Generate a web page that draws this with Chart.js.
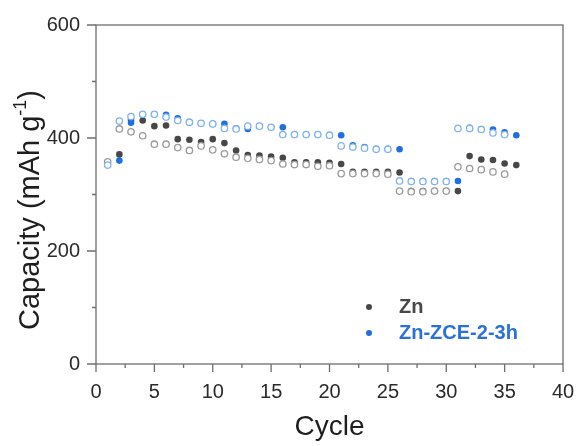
<!DOCTYPE html>
<html>
<head>
<meta charset="utf-8">
<script src="https://cdn.jsdelivr.net/npm/chart.js@4.4.1/dist/chart.umd.min.js"></script>
<style>
  html, body { margin: 0; padding: 0; background: #fff; }
  #wrap { width: 579px; height: 446px; }
</style>
</head>
<body>
<div id="wrap"><canvas id="ch" width="579" height="446"></canvas></div>
<script>
// otevřené body = cykly 1–35, plné body = cykly 2–36
const CYCLES_OPEN = [1, 2, 3, 4, 5, 6, 7, 8, 9, 10, 11, 12, 13, 14, 15, 16, 17, 18,
                     19, 20, 21, 22, 23, 24, 25, 26, 27, 28, 29, 30, 31, 32, 33, 34, 35];
const CYCLES_FILLED = [2, 3, 4, 5, 6, 7, 8, 9, 10, 11, 12, 13, 14, 15, 16, 17, 18, 19,
                       20, 21, 22, 23, 24, 25, 26, 27, 28, 29, 30, 31, 32, 33, 34, 35, 36];

const ZN_FILLED = [371, 432, 431, 421, 422, 398, 397, 393, 398, 391, 378, 370, 369, 367,
                   365, 357, 357, 357, 356, 354, 340, 340, 340, 340, 339, 306, 306, 306,
                   306, 306, 368, 362, 361, 355, 352];
const ZN_OPEN = [358, 416, 411, 404, 389, 389, 383, 378, 386, 379, 372, 366, 364, 362,
                 360, 354, 353, 353, 350, 351, 337, 337, 337, 337, 336, 306, 305, 305,
                 306, 306, 349, 346, 344, 340, 336];
const ZCE_FILLED = [360, 427, 441, 442, 441, 435, 428, 426, 425, 425, 417, 416, 421, 419,
                    419, 406, 406, 406, 405, 405, 387, 384, 381, 381, 380, 324, 324, 324,
                    324, 324, 418, 416, 415, 410, 405];
const ZCE_OPEN = [352, 430, 438, 442, 442, 437, 431, 428, 426, 425, 417, 416, 421, 421,
                  419, 406, 406, 406, 406, 405, 386, 384, 382, 380, 380, 324, 323, 323,
                  323, 323, 417, 417, 415, 409, 406];

const SERIES_NAMES = ["Zn", "Zn-ZCE-2-3h"];
const X_TICKS = [0, 5, 10, 15, 20, 25, 30, 35, 40];
const Y_TICKS = [0, 200, 400, 600];

const DARK = "#474747", GRAY = "#9a9a9a";
const BLUE = "#1f6fe0", LBLUE = "#7fb2f2";
const AXIS = "#6e6e6e";
const FONT = "'Liberation Sans', Arial, sans-serif";

const pts = (xs, ys) => xs.map((x, i) => ({ x, y: ys[i] }));

function filled(label, data, color, order) {
    return { label, data, order, showLine: false, pointStyle: "circle",
        pointRadius: 3.3, backgroundColor: color, borderColor: color, borderWidth: 0 };
}
function open(label, data, color, order) {
    return { label, data, order, showLine: false, pointStyle: "circle",
        pointRadius: 3.2, backgroundColor: "#fff", borderColor: color, borderWidth: 1.3 };
}

// rámeček, tiky (hlavní + vedlejší), titulek osy Y a legenda uvnitř grafu
const decor = {
    id: "decor",
    afterDraw(chart) {
        const { ctx, chartArea: a, scales: { x, y } } = chart;
        ctx.save();
        ctx.strokeStyle = AXIS;
        ctx.lineWidth = 1.3;
        ctx.strokeRect(a.left, a.top, a.right - a.left, a.bottom - a.top);
        ctx.beginPath();
        for (let v = 0; v <= 40; v += 2.5) {
            const px = x.getPixelForValue(v);
            const len = v % 5 === 0 ? 8 : 4;
            ctx.moveTo(px, a.bottom); ctx.lineTo(px, a.bottom + len);
        }
        for (let v = 0; v <= 600; v += 100) {
            const py = y.getPixelForValue(v);
            const len = v % 200 === 0 ? 9 : 4;
            ctx.moveTo(a.left, py); ctx.lineTo(a.left - len, py);
        }
        ctx.stroke();

        // Capacity (mAh g^-1)
        ctx.translate(31, 210);
        ctx.rotate(-Math.PI / 2);
        ctx.fillStyle = "#1e1e1e";
        ctx.textBaseline = "middle";
        const big = "29px " + FONT, small = "18px " + FONT;
        const p1 = "Capacity (mAh g", p2 = "-1", p3 = ")";
        ctx.font = big; const w1 = ctx.measureText(p1).width, w3 = ctx.measureText(p3).width;
        ctx.font = small; const w2 = ctx.measureText(p2).width;
        let tx = -(w1 + w2 + w3) / 2;
        ctx.font = big; ctx.textAlign = "left";
        ctx.fillText(p1, tx, 0); tx += w1;
        ctx.font = small; ctx.fillText(p2, tx, -10); tx += w2;
        ctx.font = big; ctx.fillText(p3, tx, 0);
        ctx.restore();

        // legenda
        ctx.save();
        ctx.font = "bold 20px " + FONT;
        ctx.textBaseline = "middle";
        [[DARK, "#484848", 307], [BLUE, "#2a72d8", 333]].forEach(([dot, txt, yy], i) => {
            ctx.fillStyle = dot;
            ctx.beginPath(); ctx.arc(a.left + 273, yy, 3, 0, Math.PI * 2); ctx.fill();
            ctx.fillStyle = txt;
            ctx.fillText(SERIES_NAMES[i], a.left + 303, yy);
        });
        ctx.restore();
    }
};

new Chart(document.getElementById("ch"), {
    type: "scatter",
    data: {
        datasets: [
            open(SERIES_NAMES[1] + " (open)", pts(CYCLES_OPEN, ZCE_OPEN), LBLUE, 1),
            filled(SERIES_NAMES[1], pts(CYCLES_FILLED, ZCE_FILLED), BLUE, 2),
            open(SERIES_NAMES[0] + " (open)", pts(CYCLES_OPEN, ZN_OPEN), GRAY, 3),
            filled(SERIES_NAMES[0], pts(CYCLES_FILLED, ZN_FILLED), DARK, 4),
        ]
    },
    options: {
        responsive: false,
        animation: false,
        events: [],
        devicePixelRatio: 1,
        layout: { padding: { left: 0, right: 16, top: 25, bottom: 0 } },
        plugins: { legend: { display: false }, tooltip: { enabled: false } },
        scales: {
            x: {
                type: "linear", min: 0, max: 40,
                afterBuildTicks: s => { s.ticks = X_TICKS.map(v => ({ value: v })); },
                afterFit: s => { s.height = 82; s.paddingLeft = 0; s.paddingRight = 0; },
                grid: { display: false, drawTicks: false },
                border: { display: false },
                ticks: { padding: 16, color: "#2a2a2a", font: { family: FONT, size: 20 }, maxRotation: 0 },
                title: { display: true, text: "Cycle", color: "#1e1e1e",
                         font: { family: FONT, size: 28 }, padding: { top: 0, bottom: 2 } }
            },
            y: {
                type: "linear", min: 0, max: 600,
                afterBuildTicks: s => { s.ticks = Y_TICKS.map(v => ({ value: v })); },
                afterFit: s => { s.width = 96; s.paddingTop = 0; s.paddingBottom = 0; },
                grid: { display: false, drawTicks: false },
                border: { display: false },
                ticks: { padding: 16, color: "#2a2a2a", font: { family: FONT, size: 20 } }
            }
        }
    },
    plugins: [decor]
});
</script>
</body>
</html>
